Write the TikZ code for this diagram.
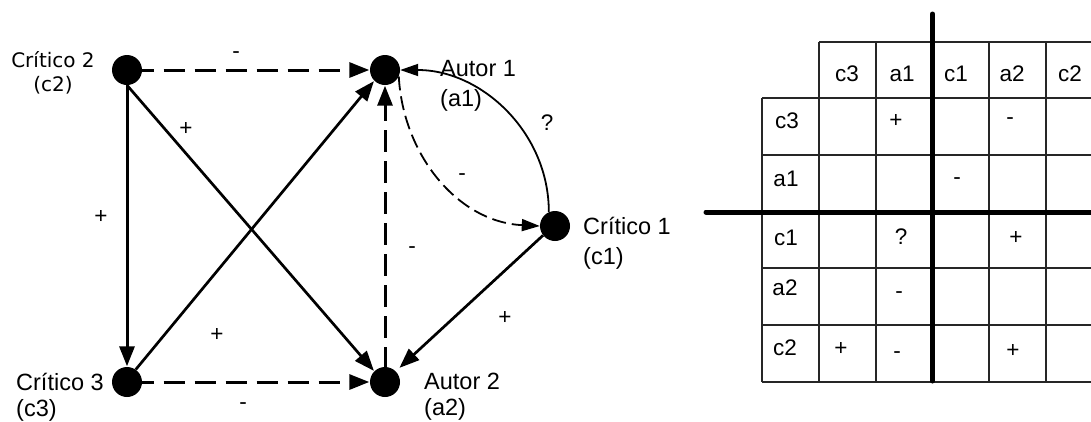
\documentclass[tikz,border=0pt]{standalone}
\usepackage{fontspec}
\setmainfont{Liberation Sans}
\newfontfamily\verdanalike{DejaVu Sans}
\usetikzlibrary{arrows.meta}
\tikzset{
  actor/.style={circle,fill=black,draw=none,minimum size=30pt,inner sep=0pt},
  solidarrow/.style={line width=2.7pt,-{Triangle[length=20pt,width=15pt]},shorten >=0.5pt},
  axisarrow/.style={solidarrow,line width=3pt},
  dasharrow/.style={axisarrow,dash pattern=on 21.5pt off 9.5pt},
  curvesolid/.style={line width=1.8pt,-{Triangle[length=18pt,width=12pt]}},
  curvedash/.style={line width=1.8pt,dash pattern=on 14pt off 6pt,-{Triangle[length=18pt,width=12pt]}},
  lab/.style={anchor=base,inner sep=0pt,font=\fontsize{22.5}{30}\selectfont},
  namelab/.style={anchor=north west,inner sep=0pt,align=left,font=\fontsize{23.5}{30}\selectfont},
  namelabtight/.style={namelab,font=\fontsize{23.5}{26}\selectfont},
  grid line/.style={line width=1.8pt,draw=black!85},
  thick line/.style={line width=5pt,line cap=round},
}
\begin{document}
\begin{tikzpicture}[x=1pt,y=-1pt]
\useasboundingbox (0,0) rectangle (1091,421);
\clip (0,0) rectangle (1091,421);
% actors
\node[actor] (c2) at (127,70) {};
\node[actor] (a1) at (385,70) {};
\node[actor] (c1) at (555,226) {};
\node[actor] (c3) at (127,382) {};
\node[actor] (a2) at (385,382) {};
% connectors
\draw[dasharrow,dash phase=9.5pt] (c2) -- (a1);
\draw[dasharrow,dash phase=9.5pt] (c3) -- (a2);
\draw[dasharrow,dash phase=2pt] (a2) -- (a1);
\draw[axisarrow] (c2) -- (c3);
\draw[solidarrow] (c2.south) -- (a2.135);
\draw[solidarrow] (c3.55) -- (a1.225);
\draw[solidarrow,shorten >=5pt] (c1.218) -- (a2.45);
\draw[curvesolid] (c1.114) .. controls (549,133) and (482,70) .. (a1.east);
\draw[curvedash] (a1.-25) .. controls (403,155) and (458,222) .. (c1.west);
% edge labels
\node[lab] at (236,58) {-};
\node[lab] at (186,135) {+};
\node[lab] at (101,223) {+};
\node[lab] at (217,341) {+};
\node[lab] at (412,253) {-};
\node[lab] at (243,409) {-};
\node[lab] at (505,324) {+};
\node[lab] at (547,130) {?};
\node[lab] at (462,180) {-};
% names
\node[namelab] (na1) at (440,60) {Autor 1\\(a1)};
\node[namelab] (nc1) at (583,217) {Crítico 1\\(c1)};
\node[namelabtight] (na2) at (424,373) {Autor 2\\(a2)};
\node[namelabtight] (nc3) at (16,373) {Crítico 3\\(c3)};
\node[anchor=north,inner sep=0pt,align=center,font=\verdanalike\fontsize{20}{24}\selectfont] (nc2) at (53,51) {Crítico 2\\(c2)};
% table
\draw[grid line] (819,42) -- (1091,42);
\draw[grid line] (762,98) -- (1091,98);
\draw[grid line] (762,155) -- (1091,155);
\draw[grid line] (762,268) -- (1091,268);
\draw[grid line] (762,325) -- (1091,325);
\draw[grid line] (762,382) -- (1091,382);
\draw[grid line] (762,98) -- (762,382);
\foreach \x in {819,876,989,1046} \draw[grid line] (\x,42) -- (\x,382);
\draw[thick line] (932.5,14) -- (932.5,381);
\draw[thick line] (706,212) -- (1095,212);
% table labels
\node[lab] at (847,81) {c3};
\node[lab] at (902,81) {a1};
\node[lab] at (956,81) {c1};
\node[lab] at (1012,81) {a2};
\node[lab] at (1070,81) {c2};
\node[lab] at (787,128) {c3};
\node[lab] at (786,186) {a1};
\node[lab] at (786,245) {c1};
\node[lab] at (785,295) {a2};
\node[lab] at (785,355) {c2};
\node[lab] at (896,127) {+};
\node[lab] at (1010,124) {-};
\node[lab] at (957,184) {-};
\node[lab] at (901,244) {?};
\node[lab] at (1016,244) {+};
\node[lab] at (899,298) {-};
\node[lab] at (841,355) {+};
\node[lab] at (897,358) {-};
\node[lab] at (1013,357) {+};
\end{tikzpicture}
\end{document}
